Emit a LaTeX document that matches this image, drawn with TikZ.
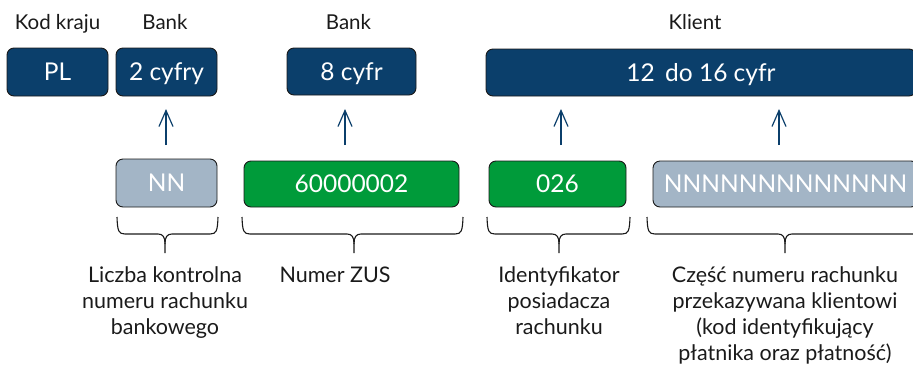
\documentclass[tikz,border=0pt]{standalone}
\usepackage{fontspec}
\setmainfont{Lato}
\usetikzlibrary{arrows.meta}
\definecolor{dblue}{HTML}{0B3F6B}
\definecolor{dgreen}{HTML}{009B3A}
\definecolor{lgrey}{HTML}{A3B5C6}
\definecolor{ink}{HTML}{1A1A1A}
\newcommand\curlybrace[3]{%
  \draw[bracestyle] (#1,217) .. controls (#1+0.5,231) and (#1+1.5,234) .. (#1+8,234) -- (#3-7,234)
     .. controls (#3-2,234) and (#3,237) .. (#3,244) -- (#3,253);
  \draw[bracestyle] (#2,217) .. controls (#2-0.5,231) and (#2-1.5,234) .. (#2-8,234) -- (#3+7,234)
     .. controls (#3+2,234) and (#3,237) .. (#3,244);
}
\begin{document}
\begin{tikzpicture}[x=1pt,y=-1pt,
  box/.style={draw=ink, line width=0.9pt, rounded corners=7pt, inner sep=0pt,
     text=white, font=\fontsize{24.5}{29}\selectfont, text height=17.5pt, text depth=0pt},
  bluebox/.style={box, fill=dblue},
  greenbox/.style={box, fill=dgreen},
  greybox/.style={box, fill=lgrey},
  head/.style={anchor=base, inner sep=0pt, text=ink, font=\fontsize{20.5}{26}\selectfont},
  lbl/.style={anchor=base, inner sep=0pt, text=ink, align=center, font=\fontsize{21.5}{26.3}\selectfont},
  uparrow/.style={draw=dblue, line width=1.2pt, -{Straight Barb[length=16pt,width=14pt,line width=1.2pt]}},
  bracestyle/.style={draw=ink, line width=1.1pt}
]
\useasboundingbox (0,0) rectangle (913,365);

% headings
\node[head] (hkod) at (57.5,29) {Kod kraju};
\node[head] (hbank1) at (165,29) {Bank};
\node[head] (hbank2) at (348.5,29) {Bank};
\node[head] (hklient) at (695,29) {Klient};

% top boxes
\node[bluebox, minimum width=101pt, minimum height=48pt] (pl) at (57.5,72) {PL};
\node[bluebox, minimum width=101pt, minimum height=48pt] (cyf2) at (166.5,72) {2 cyfry};
\node[bluebox, minimum width=129pt, minimum height=47pt] (cyf8) at (351.5,71.5) {8 cyfr};
\node[bluebox, minimum width=430pt, minimum height=47pt] (klient) at (701,72.5) {12\ \,do 16 cyfr};

% arrows
\coordinate (a1s) at (166,145); \coordinate (a1e) at (166,109);
\coordinate (a2s) at (345,145); \coordinate (a2e) at (345,109);
\coordinate (a3s) at (561,145); \coordinate (a3e) at (561,109);
\coordinate (a4s) at (779,145); \coordinate (a4e) at (779,109);
\draw[uparrow] (a1s) -- (a1e);
\draw[uparrow] (a2s) -- (a2e);
\draw[uparrow] (a3s) -- (a3e);
\draw[uparrow] (a4s) -- (a4e);

% bottom boxes
\node[greybox, minimum width=101pt, minimum height=48pt] (nn) at (166.5,183) {NN};
\node[greenbox, minimum width=215pt, minimum height=46pt] (zus) at (351.5,184) {60000002};
\node[greenbox, minimum width=137pt, minimum height=46pt] (idb) at (557.5,184) {026};
\node[greybox, minimum width=265pt, minimum height=46pt] (nnn) at (785.5,184) {NNNNNNNNNNNNN};

% braces
\curlybrace{117}{218}{165}
\curlybrace{242}{463}{354}
\curlybrace{487}{630}{559}
\curlybrace{647}{924}{785}

% labels (base anchor = baseline of last line)
\node[lbl] (l1) at (165,334.6) {Liczba kontrolna\\numeru rachunku\\bankowego};
\node[lbl] (l2) at (335,282) {Numer ZUS};
\node[lbl] (l3) at (559,334.6) {Identyfikator\\posiadacza\\rachunku};
\node[lbl] (l4) at (785,360.9) {Część numeru rachunku\\przekazywana klientowi\\(kod identyfikujący\\płatnika oraz płatność)};
\end{tikzpicture}
\end{document}
